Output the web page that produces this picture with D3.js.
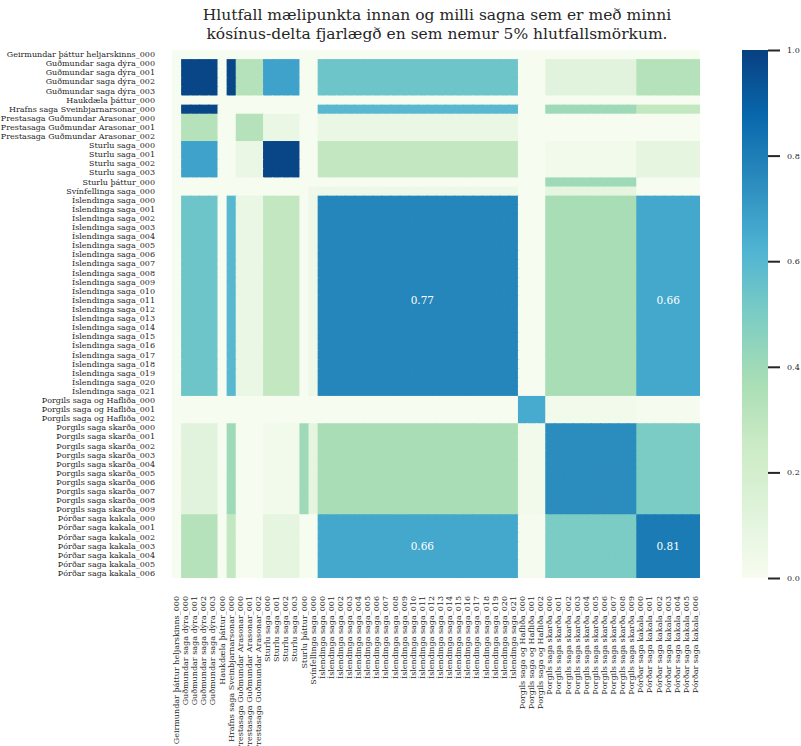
<!DOCTYPE html>
<html>
<head>
<meta charset="utf-8">
<script src="https://cdn.jsdelivr.net/npm/d3@7"></script>
<style>
  html, body { margin: 0; padding: 0; background: #ffffff; }
  svg { display: block; font-family: "DejaVu Serif", serif; }
</style>
</head>
<body>
<svg id="chart" width="801" height="746"></svg>
<script>
// ---------- DATA ----------
const titleLines = [
  "Hlutfall mælipunkta innan og milli sagna sem er með minni",
  "kósínus-delta fjarlægð en sem nemur 5% hlutfallsmörkum."
];

// Categories (text chunks), same order on both axes
const chunkLabels = [
  "Geirmundar þáttur heljarskinns_000",
  "Guðmundar saga dýra_000", "Guðmundar saga dýra_001", "Guðmundar saga dýra_002", "Guðmundar saga dýra_003",
  "Haukdæla þáttur_000",
  "Hrafns saga Sveinbjarnarsonar_000",
  "Prestasaga Guðmundar Arasonar_000", "Prestasaga Guðmundar Arasonar_001", "Prestasaga Guðmundar Arasonar_002",
  "Sturlu saga_000", "Sturlu saga_001", "Sturlu saga_002", "Sturlu saga_003",
  "Sturlu þáttur_000",
  "Svínfellinga saga_000",
  "Íslendinga saga_000", "Íslendinga saga_001", "Íslendinga saga_002", "Íslendinga saga_003",
  "Íslendinga saga_004", "Íslendinga saga_005", "Íslendinga saga_006", "Íslendinga saga_007",
  "Íslendinga saga_008", "Íslendinga saga_009", "Íslendinga saga_010", "Íslendinga saga_011",
  "Íslendinga saga_012", "Íslendinga saga_013", "Íslendinga saga_014", "Íslendinga saga_015",
  "Íslendinga saga_016", "Íslendinga saga_017", "Íslendinga saga_018", "Íslendinga saga_019",
  "Íslendinga saga_020", "Íslendinga saga_021",
  "Þorgils saga og Hafliða_000", "Þorgils saga og Hafliða_001", "Þorgils saga og Hafliða_002",
  "Þorgils saga skarða_000", "Þorgils saga skarða_001", "Þorgils saga skarða_002", "Þorgils saga skarða_003",
  "Þorgils saga skarða_004", "Þorgils saga skarða_005", "Þorgils saga skarða_006", "Þorgils saga skarða_007",
  "Þorgils saga skarða_008", "Þorgils saga skarða_009",
  "Þórðar saga kakala_000", "Þórðar saga kakala_001", "Þórðar saga kakala_002", "Þórðar saga kakala_003",
  "Þórðar saga kakala_004", "Þórðar saga kakala_005", "Þórðar saga kakala_006"
];

// Sagas (groups) – each chunk takes the value of its saga pair
const sagas = [
  "Geirmundar þáttur heljarskinns", "Guðmundar saga dýra", "Haukdæla þáttur",
  "Hrafns saga Sveinbjarnarsonar", "Prestasaga Guðmundar Arasonar", "Sturlu saga",
  "Sturlu þáttur", "Svínfellinga saga", "Íslendinga saga", "Þorgils saga og Hafliða",
  "Þorgils saga skarða", "Þórðar saga kakala"
];

// Proportion values between sagas (rows/cols in the order of `sagas`)
const rowGeirmundar = [0, 0, 0, 0, 0, 0, 0, 0, 0, 0, 0, 0];
const rowGudmundar  = [0, 0.98, 0, 0.98, 0.33, 0.68, 0, 0, 0.54, 0, 0.12, 0.33];
const rowHaukdaela  = [0, 0, 0, 0, 0, 0, 0, 0, 0, 0, 0, 0];
const rowHrafns     = [0, 0.98, 0, 0, 0, 0, 0, 0, 0.60, 0, 0.40, 0.28];
const rowPrestasaga = [0, 0.33, 0, 0, 0.33, 0.07, 0, 0, 0.07, 0, 0, 0];
const rowSturluSaga = [0, 0.68, 0, 0, 0.07, 0.98, 0, 0, 0.28, 0, 0.03, 0.10];
const rowSturluThat = [0, 0, 0, 0, 0, 0, 0, 0, 0, 0, 0.40, 0];
const rowSvinfell   = [0, 0, 0, 0, 0, 0, 0, 0.04, 0.05, 0, 0.10, 0];
const rowIslendinga = [0, 0.54, 0, 0.60, 0.07, 0.28, 0, 0.05, 0.77, 0, 0.375, 0.66];
const rowHaflida    = [0, 0, 0, 0, 0, 0, 0, 0, 0, 0.65, 0.03, 0.01];
const rowSkarda     = [0, 0.12, 0, 0.40, 0, 0.03, 0.40, 0.10, 0.375, 0.03, 0.75, 0.50];
const rowKakala     = [0, 0.33, 0, 0.28, 0, 0.10, 0, 0, 0.66, 0.01, 0.50, 0.81];

// Cells that carry a printed value [row chunk, column chunk]
const annotatedCells = [
  ["Íslendinga saga_011", "Íslendinga saga_011"],
  ["Íslendinga saga_011", "Þórðar saga kakala_003"],
  ["Þórðar saga kakala_003", "Íslendinga saga_011"],
  ["Þórðar saga kakala_003", "Þórðar saga kakala_003"]
];

const colorbarTicks = [0, 0.2, 0.4, 0.6, 0.8, 1.0];

// ---------- BUILD ----------
const sagaMatrix = [rowGeirmundar, rowGudmundar, rowHaukdaela, rowHrafns, rowPrestasaga,
  rowSturluSaga, rowSturluThat, rowSvinfell, rowIslendinga, rowHaflida, rowSkarda, rowKakala];
const sagaOf = l => l.replace(/_\d+$/, "");
const valueOf = (r, c) => sagaMatrix[sagas.indexOf(sagaOf(r))][sagas.indexOf(sagaOf(c))];

const cells = [];
chunkLabels.forEach(r => chunkLabels.forEach(c => cells.push({ r, c, v: valueOf(r, c) })));

// ---------- DRAW ----------
const svg = d3.select("#chart");
const textColor = "#262626";

const plotLeft = 172, plotTop = 50, plotSize = 528;
const x = d3.scaleBand().domain(chunkLabels).range([plotLeft, plotLeft + plotSize]);
const y = d3.scaleBand().domain(chunkLabels).range([plotTop, plotTop + plotSize]);

const color = d3.scaleLinear()
  .domain(d3.range(9).map(i => i / 8))
  .range(d3.schemeGnBu[9])
  .interpolate(d3.interpolateRgb)
  .clamp(true);

// Title
svg.append("g").selectAll("text")
  .data(titleLines).join("text")
  .attr("x", 437).attr("y", (d, i) => 20 + i * 19)
  .attr("text-anchor", "middle")
  .attr("font-size", 15.5)
  .attr("fill", textColor)
  .text(d => d);

// Heatmap cells (slightly overlapping to avoid hairline seams)
const xEnd = plotLeft + plotSize, yEnd = plotTop + plotSize;
svg.append("g")
  .selectAll("rect")
  .data(cells).join("rect")
  .attr("x", d => x(d.c))
  .attr("y", d => y(d.r))
  .attr("width", d => Math.min(x.bandwidth() + 1, xEnd - x(d.c)))
  .attr("height", d => Math.min(y.bandwidth() + 1, yEnd - y(d.r)))
  .attr("fill", d => color(d.v));

// Annotations
svg.append("g")
  .selectAll("text")
  .data(annotatedCells).join("text")
  .attr("x", d => x(d[1]) + x.bandwidth() / 2)
  .attr("y", d => y(d[0]) + y.bandwidth() / 2)
  .attr("text-anchor", "middle")
  .attr("dominant-baseline", "central")
  .attr("font-size", 10.5)
  .attr("fill", "#ffffff")
  .text(d => d3.format(".2f")(valueOf(d[0], d[1])));

// Y axis
const yAxis = svg.append("g")
  .attr("transform", `translate(${plotLeft},0)`)
  .call(d3.axisLeft(y).tickSize(0).tickPadding(17));
yAxis.select(".domain").remove();
yAxis.selectAll("text")
  .attr("font-family", "DejaVu Serif, serif")
  .attr("font-size", 8)
  .attr("fill", textColor);

// X axis
const xAxis = svg.append("g")
  .attr("transform", `translate(0,${plotTop + plotSize})`)
  .call(d3.axisBottom(x).tickSize(0).tickPadding(0));
xAxis.select(".domain").remove();
xAxis.selectAll("text")
  .attr("font-family", "DejaVu Serif, serif")
  .attr("font-size", 8)
  .attr("fill", textColor)
  .attr("y", 0)
  .attr("dy", null)
  .attr("x", -18)
  .attr("dominant-baseline", "central")
  .attr("text-anchor", "end")
  .attr("transform", "rotate(-90)");

// Colorbar
const cbX = 742, cbW = 26;
const cbScale = d3.scaleLinear().domain([0, 1]).range([plotTop + plotSize, plotTop]);
const defs = svg.append("defs");
const grad = defs.append("linearGradient")
  .attr("id", "cbgrad").attr("x1", 0).attr("y1", 1).attr("x2", 0).attr("y2", 0);
grad.selectAll("stop")
  .data(d3.range(0, 1.0001, 0.02)).join("stop")
  .attr("offset", d => d)
  .attr("stop-color", d => color(d));
svg.append("rect")
  .attr("x", cbX).attr("y", plotTop)
  .attr("width", cbW).attr("height", plotSize)
  .attr("fill", "url(#cbgrad)");

const cbAxis = svg.append("g")
  .attr("transform", `translate(${cbX + cbW},0)`)
  .call(d3.axisRight(cbScale).tickValues(colorbarTicks).tickFormat(d3.format(".1f")).tickSize(12).tickPadding(7));
cbAxis.select(".domain").remove();
cbAxis.selectAll("line").attr("stroke", textColor).attr("stroke-width", 2);
cbAxis.selectAll("text")
  .attr("font-family", "DejaVu Serif, serif")
  .attr("font-size", 8)
  .attr("fill", textColor);
</script>
</body>
</html>
